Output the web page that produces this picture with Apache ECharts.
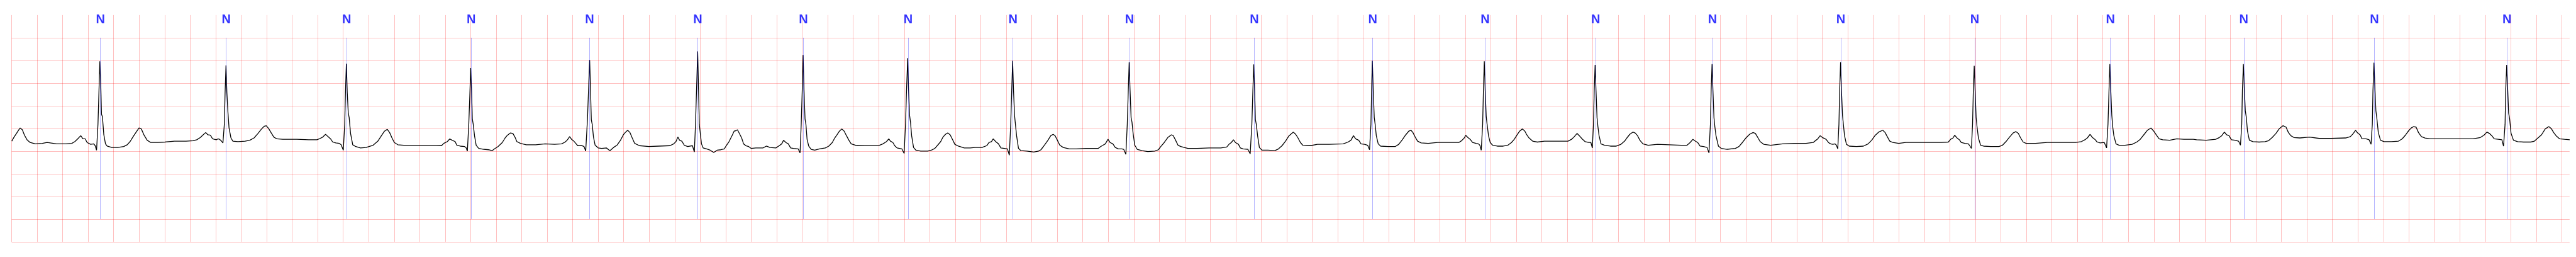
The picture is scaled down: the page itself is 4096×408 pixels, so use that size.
<!DOCTYPE html>
<html><head><meta charset="utf-8">
<script src="https://cdn.jsdelivr.net/npm/echarts@6/dist/echarts.min.js"></script>
<style>html,body{margin:0;padding:0;background:#fff}#c{width:4096px;height:408px}</style>
</head><body><div id="c"></div>
<script>
// R-peak times (s)
const beatTimes = [0.692,1.681,2.625,3.600,4.533,5.380,6.207,7.027,7.850,8.764,9.741,10.671,11.549,12.418,13.335,14.343,15.391,16.455,17.502,18.526,19.567];
// beat annotation times (s) and labels
const annotTimes = [0.696,1.683,2.627,3.604,4.533,5.381,6.209,7.031,7.853,8.767,9.745,10.674,11.555,12.422,13.338,14.345,15.395,16.459,17.505,18.530,19.569];
const annotLabels = ['N','N','N','N','N','N','N','N','N','N','N','N','N','N','N','N','N','N','N','N','N'];
const xEnd = 20.06;
// per-beat waveform: [ms relative to R peak, mV]
const beat01 = [[-691,-0.28],[-673,-0.19],[-654,-0.11],[-636,-0.03],[-625,0.01],[-608,-0.03],[-591,-0.15],[-571,-0.25],[-547,-0.31],[-506,-0.34],[-451,-0.33],[-414,-0.31],[-340,-0.34],[-266,-0.34],[-220,-0.33],[-196,-0.29],[-174,-0.23],[-150,-0.16],[-133,-0.23],[-115,-0.23],[-100,-0.31],[-72,-0.35],[-48,-0.34],[-37,-0.38],[-26,-0.48],[-15,0.09],[-7,0.84],[0,1.48],[7,0.97],[13,0.31],[20,0.26],[31,-0.14],[44,-0.34],[57,-0.39],[94,-0.42],[140,-0.42],[187,-0.40],[214,-0.36],[237,-0.29],[261,-0.18],[285,-0.08],[307,0.01],[325,-0.01],[347,-0.15],[371,-0.26],[399,-0.31],[455,-0.31],[510,-0.30],[584,-0.28],[676,-0.28],[732,-0.27]];
const beat02 = [[-229,-0.25],[-201,-0.20],[-179,-0.14],[-159,-0.09],[-142,-0.14],[-122,-0.15],[-105,-0.23],[-91,-0.24],[-76,-0.25],[-63,-0.23],[-50,-0.24],[-35,-0.28],[-24,-0.32],[-13,0.09],[-7,0.79],[0,1.39],[7,0.79],[15,0.37],[24,0.01],[39,-0.21],[54,-0.28],[94,-0.29],[150,-0.28],[187,-0.26],[220,-0.21],[251,-0.11],[279,-0.01],[301,0.05],[316,0.06],[334,0.00],[353,-0.09],[375,-0.19],[399,-0.23],[445,-0.24],[556,-0.24],[649,-0.25],[713,-0.25]];
const beat03 = [[-213,-0.23],[-185,-0.19],[-163,-0.13],[-144,-0.18],[-124,-0.23],[-107,-0.30],[-83,-0.32],[-55,-0.33],[-41,-0.36],[-24,-0.48],[-13,0.09],[-7,0.79],[0,1.43],[7,0.79],[15,0.34],[22,0.24],[33,-0.11],[50,-0.36],[74,-0.40],[111,-0.43],[154,-0.42],[210,-0.37],[247,-0.28],[275,-0.16],[299,-0.06],[321,-0.02],[339,-0.09],[358,-0.21],[376,-0.31],[404,-0.36],[450,-0.37],[524,-0.37],[617,-0.37],[709,-0.37],[746,-0.38]];
const beat04 = [[-211,-0.33],[-183,-0.29],[-164,-0.23],[-146,-0.26],[-122,-0.29],[-109,-0.37],[-81,-0.39],[-48,-0.40],[-37,-0.42],[-26,-0.50],[-15,0.09],[-7,0.72],[0,1.33],[7,0.84],[13,0.21],[20,0.09],[30,-0.16],[43,-0.37],[63,-0.44],[103,-0.46],[140,-0.47],[168,-0.49],[187,-0.45],[214,-0.40],[248,-0.31],[270,-0.21],[288,-0.15],[312,-0.10],[331,-0.11],[347,-0.19],[362,-0.29],[390,-0.33],[436,-0.36],[510,-0.36],[584,-0.34],[658,-0.35],[713,-0.34]];
const beat05 = [[-192,-0.30],[-174,-0.25],[-157,-0.18],[-142,-0.24],[-124,-0.28],[-109,-0.33],[-94,-0.38],[-68,-0.37],[-44,-0.40],[-31,-0.50],[-17,0.21],[-9,0.84],[0,1.51],[7,0.84],[13,0.19],[20,0.09],[30,-0.19],[43,-0.37],[67,-0.43],[94,-0.44],[131,-0.43],[159,-0.49],[187,-0.42],[214,-0.37],[242,-0.26],[264,-0.14],[279,-0.09],[298,-0.04],[316,-0.09],[334,-0.21],[353,-0.33],[390,-0.38],[464,-0.40],[538,-0.39],[630,-0.38]];
const beat06 = [[-188,-0.34],[-170,-0.29],[-155,-0.19],[-142,-0.26],[-124,-0.28],[-105,-0.37],[-78,-0.40],[-41,-0.38],[-26,-0.52],[-17,0.09],[-9,0.84],[0,1.70],[7,0.84],[13,0.09],[20,-0.09],[30,-0.34],[43,-0.43],[70,-0.45],[98,-0.48],[126,-0.53],[153,-0.48],[181,-0.47],[209,-0.45],[224,-0.38],[246,-0.29],[271,-0.15],[286,-0.06],[299,-0.05],[312,-0.03],[327,-0.11],[345,-0.21],[360,-0.34],[378,-0.38],[400,-0.40],[419,-0.44],[456,-0.43],[511,-0.43],[539,-0.39],[567,-0.42],[613,-0.43]];
const beat07 = [[-187,-0.38],[-168,-0.34],[-153,-0.26],[-135,-0.31],[-116,-0.34],[-98,-0.43],[-76,-0.44],[-39,-0.45],[-24,-0.54],[-15,0.09],[-7,0.84],[0,1.62],[7,0.84],[15,0.21],[22,0.09],[31,-0.24],[44,-0.39],[63,-0.46],[91,-0.48],[128,-0.45],[174,-0.43],[201,-0.39],[229,-0.31],[248,-0.21],[266,-0.14],[285,-0.06],[303,-0.01],[322,-0.06],[340,-0.16],[359,-0.26],[377,-0.34],[423,-0.38],[479,-0.37],[553,-0.37],[599,-0.37]];
const beat08 = [[-194,-0.34],[-166,-0.29],[-148,-0.23],[-135,-0.28],[-116,-0.31],[-102,-0.38],[-83,-0.43],[-46,-0.45],[-28,-0.55],[-17,0.09],[-9,0.84],[0,1.55],[7,0.84],[15,0.29],[22,0.14],[31,-0.16],[46,-0.42],[65,-0.48],[102,-0.50],[157,-0.50],[185,-0.48],[213,-0.44],[235,-0.37],[259,-0.29],[277,-0.19],[296,-0.13],[314,-0.10],[333,-0.14],[351,-0.24],[370,-0.35],[397,-0.39],[444,-0.43],[490,-0.43],[527,-0.42],[582,-0.42]];
const beat09 = [[-203,-0.38],[-185,-0.31],[-166,-0.29],[-152,-0.23],[-133,-0.29],[-111,-0.34],[-92,-0.43],[-65,-0.44],[-41,-0.45],[-26,-0.59],[-15,0.09],[-7,0.84],[0,1.49],[7,0.84],[15,0.29],[22,0.09],[31,-0.16],[46,-0.44],[65,-0.49],[111,-0.50],[166,-0.52],[203,-0.50],[222,-0.47],[249,-0.37],[277,-0.26],[299,-0.16],[318,-0.13],[333,-0.16],[351,-0.26],[370,-0.37],[397,-0.42],[444,-0.45],[499,-0.45],[573,-0.44],[647,-0.44],[672,-0.44]];
const beat10 = [[-224,-0.40],[-205,-0.37],[-187,-0.34],[-166,-0.24],[-150,-0.31],[-128,-0.34],[-109,-0.42],[-85,-0.45],[-57,-0.45],[-43,-0.46],[-26,-0.57],[-15,0.09],[-7,0.84],[0,1.46],[7,0.84],[15,0.24],[22,0.14],[31,-0.11],[44,-0.37],[63,-0.46],[100,-0.49],[146,-0.51],[201,-0.50],[229,-0.47],[248,-0.40],[275,-0.31],[303,-0.20],[331,-0.14],[346,-0.16],[364,-0.26],[383,-0.37],[405,-0.40],[460,-0.44],[534,-0.44],[626,-0.43],[719,-0.43],[765,-0.41]];
const beat11 = [[-194,-0.35],[-176,-0.31],[-159,-0.25],[-144,-0.31],[-120,-0.35],[-105,-0.43],[-83,-0.45],[-46,-0.46],[-28,-0.56],[-15,0.09],[-7,0.84],[0,1.41],[7,0.84],[13,0.19],[20,0.09],[30,-0.16],[44,-0.42],[65,-0.48],[111,-0.48],[166,-0.49],[194,-0.45],[222,-0.38],[249,-0.28],[277,-0.16],[310,-0.08],[329,-0.13],[347,-0.21],[366,-0.31],[384,-0.37],[444,-0.38],[499,-0.35],[591,-0.35],[702,-0.34]];
const beat12 = [[-190,-0.30],[-168,-0.26],[-148,-0.16],[-131,-0.23],[-107,-0.26],[-89,-0.34],[-61,-0.35],[-37,-0.37],[-22,-0.47],[-11,0.09],[-6,0.84],[0,1.49],[7,0.84],[15,0.24],[22,0.09],[31,-0.16],[46,-0.34],[65,-0.39],[124,-0.40],[179,-0.40],[207,-0.35],[235,-0.25],[262,-0.14],[286,-0.06],[303,-0.04],[318,-0.09],[336,-0.19],[355,-0.28],[383,-0.32],[438,-0.33],[512,-0.31],[586,-0.31],[660,-0.31]];
const beat13 = [[-200,-0.31],[-178,-0.27],[-157,-0.21],[-146,-0.15],[-129,-0.20],[-111,-0.24],[-92,-0.31],[-65,-0.33],[-46,-0.34],[-35,-0.37],[-24,-0.48],[-13,0.09],[-7,0.84],[0,1.48],[7,0.84],[15,0.26],[22,0.09],[33,-0.16],[46,-0.31],[65,-0.37],[102,-0.39],[148,-0.39],[185,-0.37],[213,-0.31],[235,-0.24],[253,-0.16],[277,-0.06],[299,-0.01],[318,-0.06],[333,-0.14],[351,-0.21],[379,-0.28],[416,-0.30],[471,-0.28],[545,-0.28],[619,-0.28],[656,-0.28]];
const beat14 = [[-185,-0.24],[-163,-0.18],[-142,-0.11],[-124,-0.16],[-102,-0.23],[-79,-0.29],[-50,-0.31],[-33,-0.31],[-22,-0.43],[-13,0.09],[-7,0.84],[0,1.40],[7,0.84],[15,0.24],[22,0.04],[31,-0.16],[46,-0.34],[74,-0.37],[120,-0.39],[166,-0.39],[203,-0.35],[231,-0.28],[249,-0.21],[272,-0.13],[296,-0.08],[314,-0.10],[333,-0.16],[351,-0.26],[375,-0.34],[416,-0.37],[490,-0.35],[582,-0.36],[675,-0.37],[721,-0.37]];
const beat15 = [[-172,-0.31],[-150,-0.24],[-131,-0.28],[-113,-0.31],[-94,-0.39],[-67,-0.40],[-39,-0.42],[-24,-0.54],[-13,0.09],[-7,0.84],[0,1.42],[7,0.84],[15,0.24],[22,0.04],[31,-0.16],[50,-0.39],[72,-0.44],[118,-0.46],[183,-0.44],[211,-0.40],[238,-0.31],[266,-0.21],[294,-0.13],[322,-0.09],[340,-0.11],[359,-0.20],[377,-0.29],[405,-0.35],[460,-0.37],[553,-0.34],[645,-0.33],[737,-0.33],[793,-0.31]];
const beat16 = [[-193,-0.26],[-179,-0.23],[-160,-0.16],[-142,-0.20],[-114,-0.24],[-95,-0.31],[-79,-0.34],[-61,-0.35],[-43,-0.34],[-33,-0.37],[-22,-0.45],[-13,0.09],[-7,0.84],[0,1.46],[7,0.84],[15,0.29],[22,0.09],[31,-0.16],[46,-0.35],[68,-0.39],[124,-0.40],[179,-0.39],[216,-0.34],[244,-0.26],[272,-0.15],[299,-0.08],[331,-0.04],[349,-0.09],[368,-0.19],[386,-0.28],[410,-0.31],[456,-0.33],[512,-0.31],[586,-0.31],[697,-0.31],[789,-0.31],[845,-0.30]];
const beat17 = [[-185,-0.24],[-166,-0.21],[-153,-0.15],[-135,-0.21],[-116,-0.25],[-102,-0.31],[-74,-0.33],[-46,-0.34],[-33,-0.39],[-22,-0.44],[-13,0.09],[-7,0.84],[0,1.38],[7,0.84],[15,0.24],[22,0.04],[33,-0.21],[50,-0.37],[74,-0.39],[129,-0.40],[194,-0.40],[222,-0.37],[249,-0.29],[277,-0.19],[305,-0.10],[327,-0.07],[346,-0.11],[364,-0.21],[384,-0.30],[407,-0.33],[480,-0.33],[573,-0.31],[684,-0.31],[795,-0.31],[841,-0.29]];
const beat18 = [[-196,-0.25],[-177,-0.21],[-155,-0.13],[-137,-0.20],[-118,-0.24],[-100,-0.30],[-76,-0.32],[-44,-0.31],[-26,-0.43],[-15,0.09],[-7,0.84],[0,1.42],[7,0.84],[15,0.29],[22,0.04],[31,-0.16],[48,-0.34],[72,-0.37],[118,-0.37],[174,-0.35],[211,-0.30],[238,-0.24],[266,-0.14],[294,-0.04],[322,0.01],[344,-0.06],[368,-0.16],[386,-0.23],[414,-0.25],[469,-0.26],[525,-0.23],[580,-0.24],[654,-0.24],[680,-0.25],[755,-0.26],[830,-0.24]];
const beat19 = [[-189,-0.20],[-170,-0.16],[-149,-0.08],[-132,-0.14],[-113,-0.16],[-94,-0.25],[-66,-0.26],[-38,-0.28],[-23,-0.37],[-13,0.09],[-8,0.84],[0,1.42],[8,0.84],[15,0.39],[23,0.24],[32,-0.06],[47,-0.26],[75,-0.29],[123,-0.30],[170,-0.29],[198,-0.27],[226,-0.20],[255,-0.11],[283,0.00],[311,0.06],[334,0.03],[353,-0.09],[372,-0.16],[396,-0.20],[443,-0.21],[519,-0.19],[594,-0.22],[688,-0.22],[802,-0.21]];
const beat20 = [[-185,-0.18],[-162,-0.11],[-145,-0.04],[-128,-0.10],[-109,-0.14],[-94,-0.23],[-62,-0.23],[-38,-0.25],[-23,-0.35],[-13,0.09],[-8,0.84],[0,1.45],[8,0.84],[15,0.39],[23,0.21],[34,-0.09],[51,-0.26],[79,-0.29],[136,-0.29],[192,-0.28],[221,-0.23],[249,-0.14],[272,-0.05],[292,0.01],[311,0.04],[330,0.03],[349,-0.09],[372,-0.18],[400,-0.21],[438,-0.23],[494,-0.23],[588,-0.23],[683,-0.23],[777,-0.23]];
const beat21 = [[-207,-0.20],[-179,-0.15],[-155,-0.08],[-136,-0.11],[-117,-0.16],[-98,-0.23],[-66,-0.24],[-38,-0.25],[-25,-0.39],[-13,0.09],[-8,0.84],[0,1.40],[8,0.84],[15,0.34],[23,0.21],[34,-0.11],[53,-0.26],[85,-0.29],[132,-0.30],[189,-0.30],[217,-0.28],[245,-0.21],[273,-0.14],[302,-0.01],[330,0.04],[349,0.00],[368,-0.09],[387,-0.16],[415,-0.23],[453,-0.24],[494,-0.25]];

const beats = [beat01,beat02,beat03,beat04,beat05,beat06,beat07,beat08,beat09,beat10,beat11,beat12,beat13,beat14,beat15,beat16,beat17,beat18,beat19,beat20,beat21];
const ecg = [];
beats.forEach((b, i) => b.forEach(p => ecg.push([+(beatTimes[i] + p[0] / 1000).toFixed(4), p[1]])));

const gridColor = 'rgba(255,0,0,0.25)';
const chart = echarts.init(document.getElementById('c'), null, {renderer: 'canvas'});
chart.setOption({
  animation: false,
  backgroundColor: '#ffffff',
  grid: {left: 18.5, right: 10.2, top: 23.9, bottom: 24.1, containLabel: false},
  xAxis: {
    type: 'value', min: 0, max: xEnd, interval: 0.2,
    axisLine: {show: false}, axisTick: {show: false}, axisLabel: {show: false},
    splitLine: {show: true, showMinLine: true, showMaxLine: false, lineStyle: {color: gridColor, width: 1}}
  },
  yAxis: {
    type: 'value', min: -2.5, max: 2.5, interval: 0.5,
    axisLine: {show: false}, axisTick: {show: false}, axisLabel: {show: false},
    splitLine: {show: true, showMinLine: true, showMaxLine: false, lineStyle: {color: gridColor, width: 1}}
  },
  series: [
    {
      type: 'line', data: ecg, symbol: 'none', showSymbol: false, silent: true,
      lineStyle: {color: '#000000', width: 1.3}, z: 3,
      markLine: {
        silent: true, symbol: ['none', 'none'], label: {show: false}, animation: false,
        lineStyle: {color: 'rgba(0,0,255,0.5)', width: 0.6, type: 'solid'},
        data: annotTimes.map(t => [{coord: [t, 2]}, {coord: [t, -2]}])
      }
    },
    {
      type: 'scatter', silent: true, symbolSize: 1, z: 4,
      itemStyle: {color: 'rgba(0,0,0,0)'},
      data: annotTimes.map((t, i) => [t, 2.4, annotLabels[i]]),
      label: {
        show: true, position: 'inside', formatter: p => p.value[2],
        color: '#0000ff', fontSize: 20, fontWeight: 'bold',
        fontFamily: '"Liberation Sans", Arial, sans-serif'
      }
    }
  ]
});
</script>
</body></html>
